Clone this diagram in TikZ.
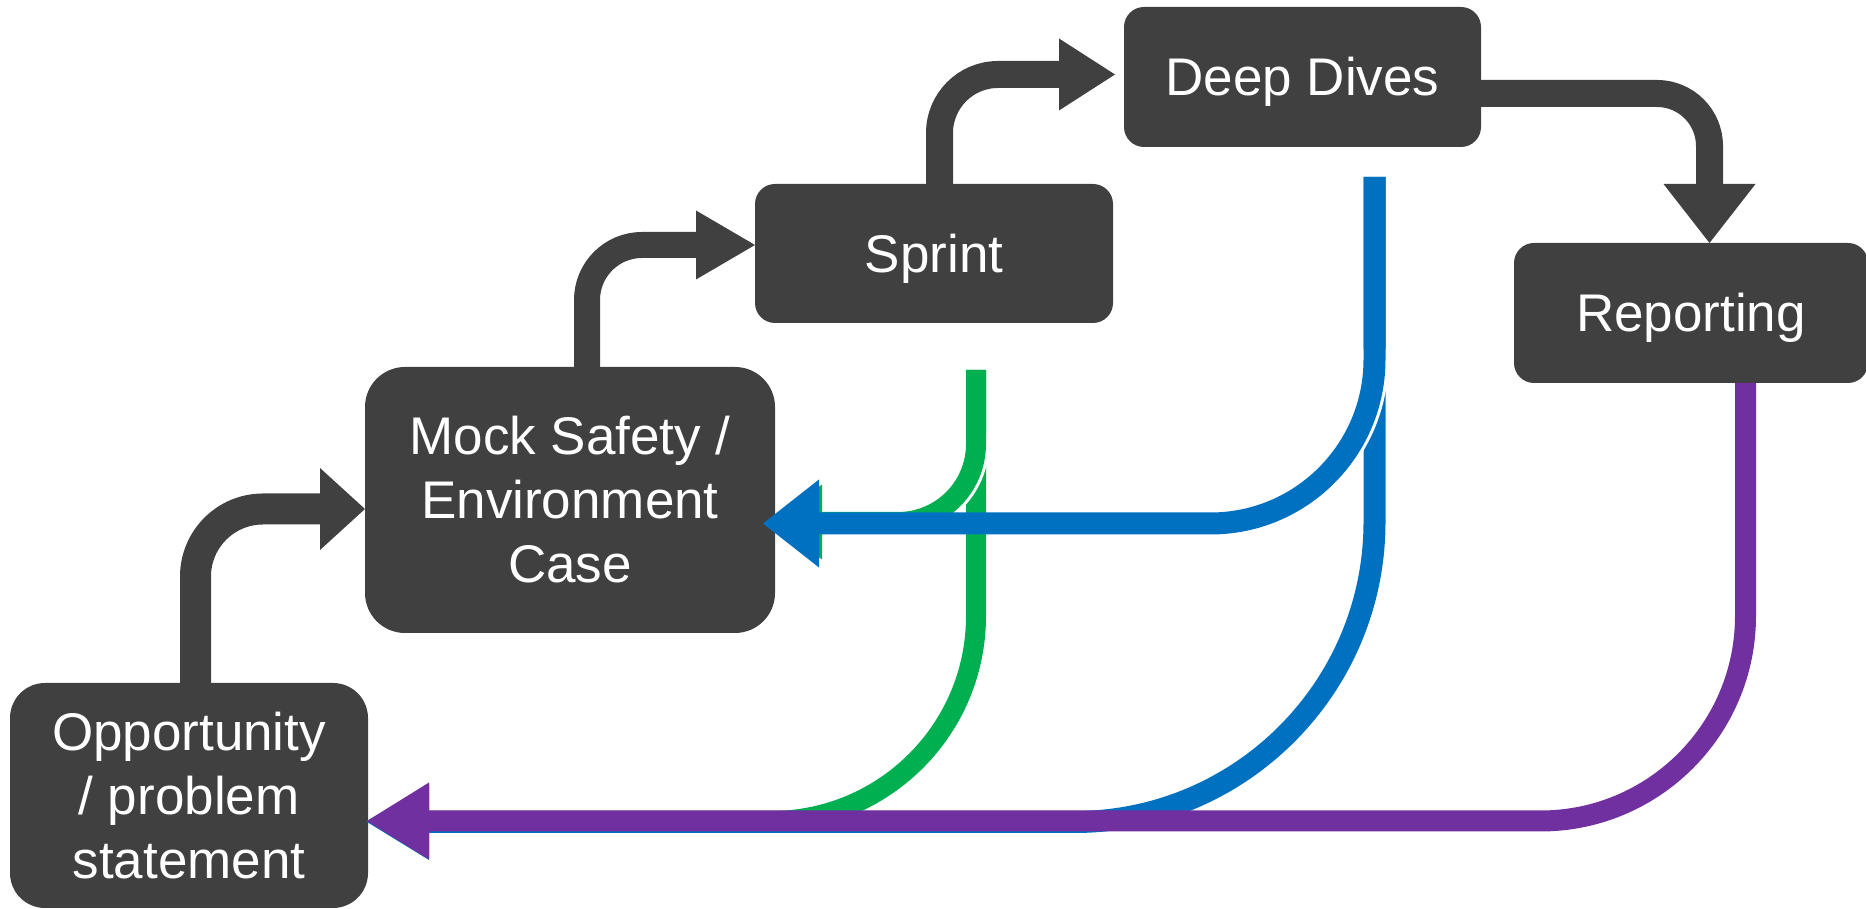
\documentclass[tikz,border=0pt]{standalone}
\usepackage{fontspec}
\setmainfont{Liberation Sans}
\usetikzlibrary{calc}
\definecolor{dk}{HTML}{404040}
\definecolor{cB}{HTML}{0070C0}
\definecolor{cG}{HTML}{00B050}
\definecolor{cP}{HTML}{7030A0}
\begin{document}
\begin{tikzpicture}[x=1pt,y=1pt,
  procbox/.style={fill=dk, text=white, inner sep=0pt, outer sep=0pt, align=center,
    font=\fontsize{53}{64}\selectfont},
  oneline/.style={text height=38pt, text depth=0pt},
  dshaft/.style={draw=dk, line cap=butt, line join=round},
  gline/.style={draw=cG, line width=20pt, line cap=butt},
  bline/.style={draw=cB, line width=22pt, line cap=butt},
  pline/.style={draw=cP, line width=21pt, line cap=butt},
  gapline/.style={draw=white, line cap=butt}
]
\useasboundingbox (0,0) rectangle (1866,909);

% boxes
\node[procbox, minimum width=358pt, minimum height=225pt, rounded corners=35pt] (opp) at (189,113.5) {Opportunity\\/ problem\\statement};
\node[procbox, minimum width=410pt, minimum height=266pt, rounded corners=40pt] (mock) at (570,409) {Mock Safety /\\Environment\\Case};
\node[procbox, oneline, minimum width=358pt, minimum height=139pt, rounded corners=20pt] (sprint) at (934,655.5) {Sprint};
\node[procbox, oneline, minimum width=357pt, minimum height=140pt, rounded corners=20pt] (deep) at (1302.5,832) {Deep Dives};
\node[procbox, oneline, minimum width=354pt, minimum height=140pt, rounded corners=20pt] (rep) at (1691,596) {Reporting};

% dark forward arrows
\coordinate (a1tip) at ([yshift=-9pt]mock.west);
\draw[dshaft, line width=31pt, rounded corners=67.5pt] ([xshift=6.5pt]opp.north) |- ($(a1tip)+(-44,0)$);
\fill[dk] ($(a1tip)+(-45,41)$) -- (a1tip) -- ($(a1tip)+(-45,-41)$) -- cycle;

\coordinate (a2tip) at ([yshift=8.5pt]sprint.west);
\draw[dshaft, line width=26pt, rounded corners=55pt] ([xshift=17pt]mock.north) |- ($(a2tip)+(-58,0)$);
\fill[dk] ($(a2tip)+(-59,34.5)$) -- (a2tip) -- ($(a2tip)+(-59,-34.5)$) -- cycle;

\coordinate (a3tip) at ([xshift=-9pt,yshift=2.5pt]deep.west);
\draw[dshaft, line width=27pt, rounded corners=58.5pt] ([xshift=5.5pt]sprint.north) |- ($(a3tip)+(-55,0)$);
\fill[dk] ($(a3tip)+(-56,36)$) -- (a3tip) -- ($(a3tip)+(-56,-36)$) -- cycle;

\coordinate (a4tip) at ([xshift=18.5pt]rep.north);
\draw[dshaft, line width=27pt, rounded corners=52.5pt] ([yshift=-16.5pt]deep.east) -| ($(a4tip)+(0,58)$);
\fill[dk] ($(a4tip)+(-46,59)$) -- (a4tip) -- ($(a4tip)+(46,59)$) -- cycle;

% feedback arrows
\coordinate (gs) at (976,539);
\coordinate (bs) at (1374.5,732);
\coordinate (ps) at ([xshift=54.5pt]rep.south);
\coordinate (otip) at ([xshift=-1pt,yshift=-25.5pt]opp.east);
\coordinate (btip) at ([xshift=-12pt,yshift=-23.5pt]mock.east);
\coordinate (gtip) at ([xshift=-5pt,yshift=-22pt]mock.east);

% green: sprint -> opportunity
\draw[gline, rounded corners=205pt] (gs) |- ($(otip)+(61,0)$);
\fill[cG] ($(otip)+(62,37)$) -- (otip) -- ($(otip)+(62,-37)$) -- cycle;
% green: sprint -> mock (with white gap)
\draw[gapline, line width=26pt, rounded corners=78pt] (976,475) -- (976,387) -- (891,387);
\draw[gline, rounded corners=78pt] (gs) |- ($(gtip)+(51,0)$);
\fill[cG] ($(gtip)+(52,37.5)$) -- (gtip) -- ($(gtip)+(52,-37.5)$) -- cycle;

% blue: deep dives -> opportunity
\draw[bline, rounded corners=300pt] (bs) |- ($(otip)+(61,-1)$);
\fill[cB] ($(otip)+(62,37)$) -- ($(otip)+(0,-1)$) -- ($(otip)+(62,-39)$) -- cycle;
% blue: deep dives -> mock (with white gap)
\draw[gapline, line width=28pt, rounded corners=164pt] (1374.5,560) -- (1374.5,385.5) -- (1204,385.5);
\draw[bline, rounded corners=164pt] (bs) |- ($(btip)+(55,0)$);
\fill[cB] ($(btip)+(56,44)$) -- (btip) -- ($(btip)+(56,-44)$) -- cycle;

% purple: reporting -> opportunity
\draw[pline, rounded corners=205pt] (ps) |- ($(otip)+(61,0)$);
\fill[cP] ($(otip)+(62,38.5)$) -- (otip) -- ($(otip)+(62,-38.5)$) -- cycle;
\end{tikzpicture}
\end{document}
